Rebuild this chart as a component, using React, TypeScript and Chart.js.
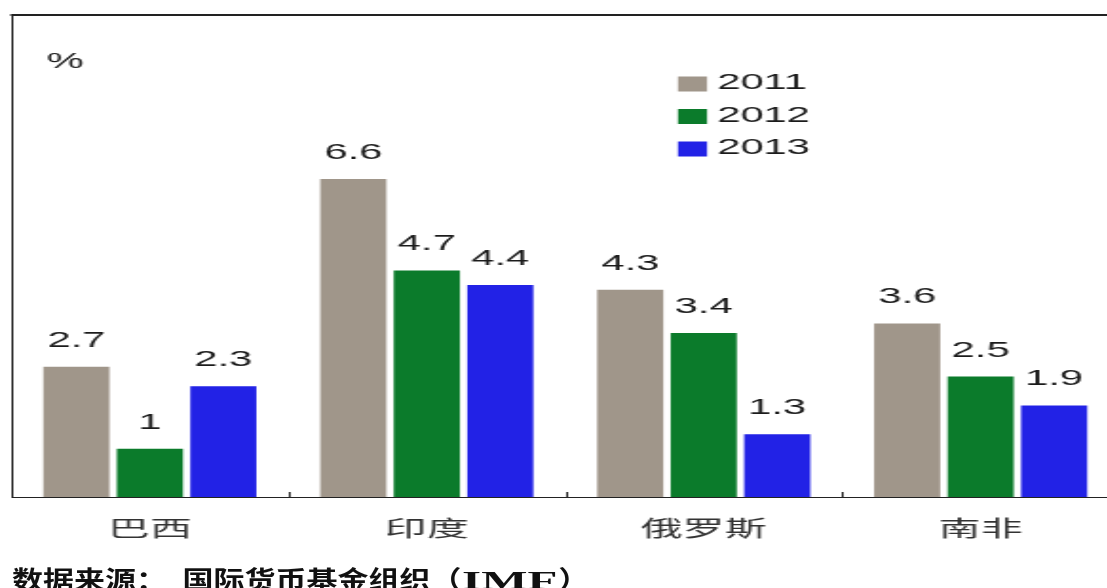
import React, { useEffect, useRef } from 'react';
import { Chart, registerables } from 'chart.js';

Chart.register(...registerables);

// ---- data ----
const categories = ['巴西', '印度', '俄罗斯', '南非'];
const seriesNames = ['2011', '2012', '2013'];
const values2011 = [2.7, 6.6, 4.3, 3.6];
const values2012 = [1, 4.7, 3.4, 2.5];
const values2013 = [2.3, 4.4, 1.3, 1.9];
const seriesColors = ['#A0968A', '#0B7B2B', '#2222E6'];
const yMin = 0;
const yMax = 10;
const unitLabel = '%';
const sourcePrefix = '数据来源：\u2002国际货币基金组织（';
const sourceOrg = 'IMF';
const sourceSuffix = '）';

// ---- layout (the original picture is stretched horizontally) ----
const STRETCH = 1.9;
const CANVAS_W = 600;
const CANVAS_H = 588;

const decorPlugin = {
  id: 'decor',
  afterDatasetsDraw(chart: any) {
    const { ctx, chartArea } = chart;
    ctx.save();
    // top frame line
    ctx.strokeStyle = '#222';
    ctx.lineWidth = 2;
    ctx.beginPath();
    ctx.moveTo(chartArea.left - 0.5, chartArea.top);
    ctx.lineTo(chartArea.right + 20, chartArea.top);
    ctx.stroke();

    // inner tick marks between categories
    const xs = chart.scales.x;
    ctx.lineWidth = 1;
    for (let i = 0; i < categories.length - 1; i++) {
      const bx = Math.round((xs.getPixelForValue(i) + xs.getPixelForValue(i + 1)) / 2) + 0.5;
      ctx.beginPath();
      ctx.moveTo(bx, chartArea.bottom);
      ctx.lineTo(bx, chartArea.bottom - 5);
      ctx.stroke();
    }

    // value labels
    ctx.font = '22px "Liberation Sans", Arial, sans-serif';
    ctx.fillStyle = '#1b1b1b';
    ctx.textAlign = 'center';
    ctx.textBaseline = 'alphabetic';
    chart.data.datasets.forEach((ds: any, di: number) => {
      const meta = chart.getDatasetMeta(di);
      meta.data.forEach((el: any, i: number) => {
        ctx.fillText(String(ds.data[i]), el.x, el.y - 20);
      });
    });

    // unit label
    ctx.textAlign = 'left';
    ctx.fillText(unitLabel, chartArea.left + 18.5, 68);

    // legend
    const lx = 356.8;
    chart.data.datasets.forEach((ds: any, di: number) => {
      const top = 76.5 + di * 32.5;
      ctx.fillStyle = ds.backgroundColor;
      ctx.fillRect(lx, top, 15.3, 15);
      ctx.fillStyle = '#1b1b1b';
      ctx.fillText(ds.label, lx + 20.6, top + 12.5);
    });
    ctx.restore();
  },
};

export default function App() {
  const canvasRef = useRef<HTMLCanvasElement | null>(null);

  useEffect(() => {
    if (!canvasRef.current) return;
    const seriesValues = [values2011, values2012, values2013];
    const chart = new Chart(canvasRef.current, {
      type: 'bar',
      data: {
        labels: categories,
        datasets: seriesNames.map((name, i) => ({
          label: name,
          data: seriesValues[i],
          backgroundColor: seriesColors[i],
          borderWidth: 0,
          categoryPercentage: 0.796,
          barPercentage: 0.9,
        })),
      },
      options: {
        responsive: false,
        animation: false,
        devicePixelRatio: 1,
        layout: { padding: { left: 6, right: 11, top: 15, bottom: 0 } },
        plugins: {
          legend: { display: false },
          tooltip: { enabled: false },
          title: { display: false },
        },
        scales: {
          x: {
            grid: { display: false },
            border: { display: true, color: '#222', width: 1 },
            ticks: {
              font: { family: '"Noto Sans CJK SC", sans-serif', size: 22 },
              color: '#333',
              padding: 9,
              maxRotation: 0,
              autoSkip: false,
            },
            afterFit: (s: any) => {
              s.height = 91;
            },
          },
          y: {
            min: yMin,
            max: yMax,
            grid: { display: false },
            ticks: { display: false },
            border: { display: true, color: '#222', width: 1 },
            afterFit: (s: any) => {
              s.width = 0;
            },
          },
        },
      } as any,
      plugins: [decorPlugin],
    });
    return () => chart.destroy();
  }, []);

  return (
    <div
      style={{
        position: 'fixed',
        left: 0,
        top: 0,
        width: 1107,
        height: 588,
        overflow: 'hidden',
        background: '#fff',
      }}
    >
      <canvas
        ref={canvasRef}
        width={CANVAS_W}
        height={CANVAS_H}
        style={{
          display: 'block',
          width: CANVAS_W + 'px',
          height: CANVAS_H + 'px',
          transform: `scaleX(${STRETCH})`,
          transformOrigin: '0 0',
        }}
      />
      <div
        style={{
          position: 'absolute',
          left: 12,
          top: 566,
          font: 'bold 25px "Noto Sans CJK SC", sans-serif',
          lineHeight: '25px',
          whiteSpace: 'nowrap',
          color: '#111',
          transform: 'scaleX(1.24)',
          transformOrigin: 'left top',
        }}
      >
        {sourcePrefix}
        <span style={{ display: 'inline-block', width: 78, verticalAlign: 'top' }}>
          <span
            style={{
              display: 'inline-block',
              fontFamily: '"Liberation Serif", serif',
              transform: 'scaleX(1.58)',
              transformOrigin: 'left top',
            }}
          >
            {sourceOrg}
          </span>
        </span>
        {sourceSuffix}
      </div>
    </div>
  );
}
